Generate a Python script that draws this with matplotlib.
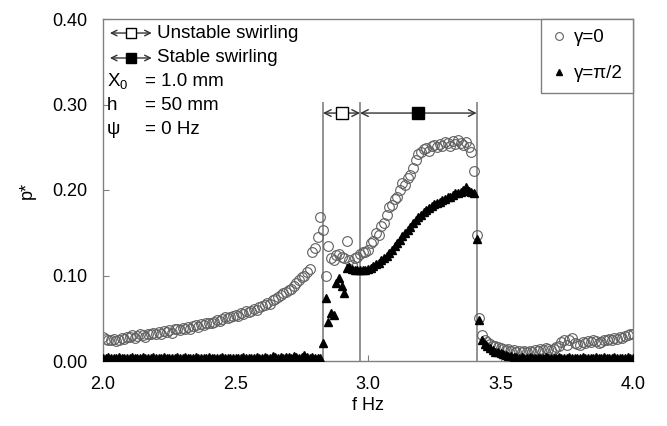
import matplotlib
matplotlib.use("Agg")
import matplotlib.pyplot as plt
import numpy as np

plt.rcParams["font.family"] = ["Liberation Sans", "DejaVu Sans"]
plt.rcParams["font.size"] = 13

# frequency sweep, 0.01 Hz steps
f_hz = np.linspace(2.0, 4.0, 201)

# p* for gamma = 0 (open circles)
p_gamma0 = [
    0.028, 0.026, 0.025, 0.024, 0.026, 0.023, 0.025, 0.027, 0.026, 0.028,
    0.028, 0.030, 0.027, 0.029, 0.031, 0.030, 0.028, 0.032, 0.031, 0.033,
    0.032, 0.034, 0.031, 0.035, 0.034, 0.036, 0.033, 0.037, 0.038, 0.036,
    0.039, 0.037, 0.040, 0.038, 0.041, 0.042, 0.040, 0.043, 0.042, 0.044,
    0.045, 0.044, 0.046, 0.048, 0.047, 0.049, 0.051, 0.050, 0.052, 0.053,
    0.054, 0.053, 0.056, 0.055, 0.058, 0.057, 0.059, 0.061, 0.060, 0.063,
    0.064, 0.066, 0.068, 0.067, 0.071, 0.073, 0.075, 0.077, 0.079, 0.081,
    0.083, 0.084, 0.088, 0.091, 0.095, 0.098, 0.100, 0.104, 0.108, 0.128,
    0.132, 0.145, 0.169, 0.153, 0.100, 0.134, 0.120, 0.118, 0.124, 0.125,
    0.122, 0.121, 0.140, 0.118, 0.112, 0.120, 0.122, 0.125, 0.128, 0.127,
    0.130, 0.138, 0.140, 0.150, 0.147, 0.158, 0.161, 0.171, 0.180, 0.183,
    0.190, 0.192, 0.200, 0.208, 0.206, 0.214, 0.218, 0.226, 0.235, 0.242,
    0.245, 0.248, 0.249, 0.246, 0.251, 0.253, 0.250, 0.254, 0.252, 0.256,
    0.255, 0.251, 0.257, 0.254, 0.258, 0.255, 0.253, 0.256, 0.250, 0.245,
    0.222, 0.147, 0.050, 0.030, 0.025, 0.022, 0.020, 0.018, 0.017, 0.016,
    0.015, 0.014, 0.013, 0.014, 0.012, 0.013, 0.011, 0.012, 0.011, 0.012,
    0.011, 0.012, 0.011, 0.013, 0.012, 0.014, 0.013, 0.015, 0.014, 0.013,
    0.014, 0.016, 0.018, 0.022, 0.024, 0.019, 0.025, 0.027, 0.021, 0.020,
    0.019, 0.022, 0.021, 0.023, 0.022, 0.024, 0.023, 0.021, 0.022, 0.025,
    0.024, 0.026, 0.025, 0.027, 0.026, 0.028, 0.027, 0.029, 0.030, 0.031, 0.032,
]

# p* for gamma = pi/2 (filled triangles)
p_gamma90 = [
    0.004, 0.003, 0.005, 0.004, 0.003, 0.004, 0.005, 0.003, 0.004, 0.004,
    0.003, 0.005, 0.004, 0.004, 0.003, 0.005, 0.004, 0.003, 0.004, 0.005,
    0.004, 0.003, 0.004, 0.005, 0.004, 0.003, 0.004, 0.004, 0.005, 0.003,
    0.004, 0.005, 0.004, 0.003, 0.004, 0.005, 0.004, 0.004, 0.003, 0.004,
    0.005, 0.004, 0.004, 0.003, 0.004, 0.005, 0.004, 0.003, 0.004, 0.004,
    0.003, 0.004, 0.004, 0.005, 0.003, 0.004, 0.004, 0.003, 0.005, 0.004,
    0.004, 0.005, 0.004, 0.004, 0.006, 0.005, 0.004, 0.005, 0.004, 0.005,
    0.005, 0.004, 0.006, 0.005, 0.004, 0.005, 0.007, 0.005, 0.004, 0.005,
    0.004, 0.003, 0.004, 0.021, 0.074, 0.046, 0.056, 0.054, 0.091, 0.097,
    0.088, 0.079, 0.109, 0.110, 0.108, 0.107, 0.106, 0.106, 0.106, 0.107,
    0.108, 0.109, 0.111, 0.113, 0.115, 0.118, 0.120, 0.123, 0.126, 0.130,
    0.134, 0.138, 0.141, 0.146, 0.150, 0.153, 0.157, 0.161, 0.165, 0.169,
    0.171, 0.174, 0.177, 0.179, 0.181, 0.184, 0.185, 0.186, 0.188, 0.190,
    0.192, 0.192, 0.194, 0.196, 0.197, 0.198, 0.200, 0.203, 0.199, 0.198,
    0.197, 0.143, 0.048, 0.024, 0.020, 0.017, 0.015, 0.013, 0.011, 0.010,
    0.009, 0.008, 0.007, 0.006, 0.006, 0.005, 0.005, 0.004, 0.005, 0.004,
    0.004, 0.005, 0.004, 0.004, 0.003, 0.004, 0.004, 0.005, 0.004, 0.003,
    0.004, 0.004, 0.005, 0.004, 0.003, 0.004, 0.005, 0.004, 0.004, 0.003,
    0.004, 0.005, 0.004, 0.004, 0.003, 0.004, 0.005, 0.004, 0.004, 0.005,
    0.004, 0.003, 0.004, 0.005, 0.004, 0.004, 0.003, 0.004, 0.005, 0.004, 0.004,
]

# regime boundaries (Hz)
f_bounds = [2.83, 2.97, 3.41]

fig = plt.figure(figsize=(6.67, 4.26), dpi=100)
ax = fig.add_axes([103 / 667, 65 / 426, 530 / 667, 342 / 426])

gray = "#808080"

ax.vlines(f_bounds, 0, 0.303, color=gray, lw=1.2, zorder=1)

ax.plot(f_hz, p_gamma0, ls="none", marker="o", ms=7, mfc="none",
        mec="#606060", mew=0.8, label="γ=0", zorder=2)
ax.plot(f_hz, p_gamma90, ls="none", marker="^", ms=5.5, color="black",
        mec="black", label="γ=π/2", zorder=3)

# regime arrows
arr_y = 0.29
for a, b, fc in [(f_bounds[0], f_bounds[1], "white"), (f_bounds[1], f_bounds[2], "black")]:
    ax.annotate("", xy=(a, arr_y), xytext=(b, arr_y),
                arrowprops=dict(arrowstyle="<->", color="#333333", lw=1.0,
                                shrinkA=0, shrinkB=0, mutation_scale=12))
    ax.plot([(a + b) / 2], [arr_y], marker="s", ms=8, mfc=fc, mec="black",
            mew=1.0, zorder=4)

ax.set_xlim(2.0, 4.0)
ax.set_ylim(0, 0.40)
ax.set_xticks([2.0, 2.5, 3.0, 3.5, 4.0])
ax.set_xticklabels(["2.0", "2.5", "3.0", "3.5", "4.0"])
ax.set_yticks([0, 0.1, 0.2, 0.3, 0.4])
ax.set_yticklabels(["0.00", "0.10", "0.20", "0.30", "0.40"])
ax.tick_params(direction="in", length=4, color=gray, pad=11)
for s in ax.spines.values():
    s.set_color(gray)
    s.set_linewidth(1.0)

ax.set_xlabel("f Hz", labelpad=3)
ax.set_ylabel("p*", labelpad=12)

# annotation block top-left
tr = ax.transAxes
def icon(y, fc):
    ax.annotate("", xy=(0.013, y), xytext=(0.092, y), xycoords=tr, textcoords=tr,
                arrowprops=dict(arrowstyle="<->", color="#333333", lw=1.0,
                                shrinkA=0, shrinkB=0, mutation_scale=10))
    ax.plot([0.053], [y], transform=tr, marker="s", ms=7, mfc=fc, mec="black",
            mew=1.0, clip_on=False, zorder=4)

icon(0.959, "white")
icon(0.886, "black")
ax.text(0.102, 0.959, "Unstable swirling", transform=tr, va="center", fontsize=13.5)
ax.text(0.102, 0.886, "Stable swirling", transform=tr, va="center", fontsize=13.5)
for y, lab, val in [(0.816, "X$_\\mathregular{0}$", "= 1.0 mm"),
                    (0.746, "h", "= 50 mm"),
                    (0.678, "ψ", "= 0 Hz")]:
    ax.text(0.0075, y, lab, transform=tr, va="center", fontsize=13.5)
    ax.text(0.079, y, val, transform=tr, va="center", fontsize=13.5)

leg = ax.legend(loc="upper right", bbox_to_anchor=(1, 1), borderaxespad=0,
                fancybox=False, edgecolor=gray, framealpha=1,
                handlelength=0.8, handletextpad=0.4, labelspacing=1.0,
                markerscale=0.8, borderpad=0.55, fontsize=13.5)
leg.get_frame().set_linewidth(1.0)

fig.savefig("out.png", dpi=100)
